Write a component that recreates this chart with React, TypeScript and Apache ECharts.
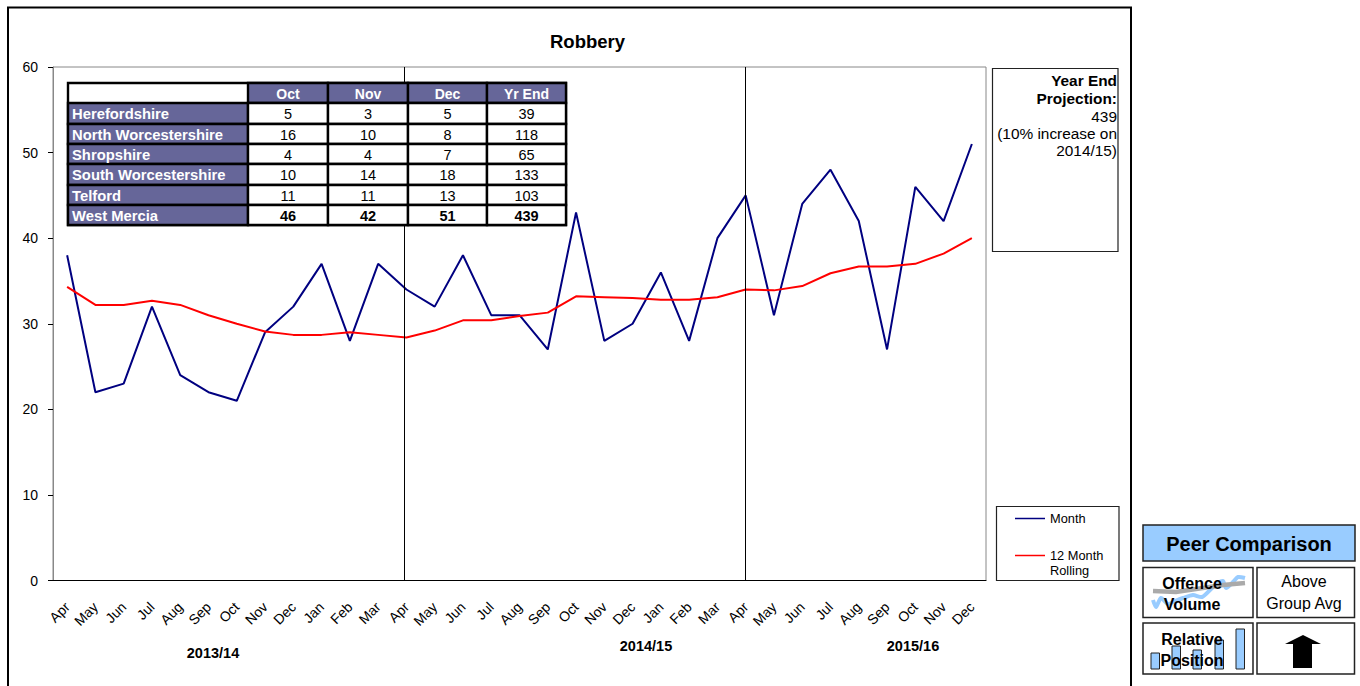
import React, { useEffect, useRef } from "react";
import * as echarts from "echarts";

const months = ["Apr","May","Jun","Jul","Aug","Sep","Oct","Nov","Dec","Jan","Feb","Mar","Apr","May","Jun","Jul","Aug","Sep","Oct","Nov","Dec","Jan","Feb","Mar","Apr","May","Jun","Jul","Aug","Sep","Oct","Nov","Dec"];
const monthValues = [38,22,23,32,24,22,21,29,32,37,28,37,34,32,38,31,31,27,43,28,30,36,28,40,45,31,44,48,42,27,46,42,51];
const rollingValues = [34.3,32.2,32.2,32.7,32.2,31,30,29.1,28.7,28.7,29,28.7,28.4,29.2,30.4,30.4,30.9,31.3,33.2,33.1,33,32.8,32.8,33.1,34,33.9,34.4,35.9,36.7,36.7,37,38.2,40];
const yearBreaks = [12.42, 24.48];
const tableColumns = ["Oct","Nov","Dec","Yr End"];
const tableNames = ["Herefordshire","North Worcestershire","Shropshire","South Worcestershire","Telford","West Mercia"];
const tableValues = [[5,3,5,39],[16,10,8,118],[4,4,7,65],[10,14,18,133],[11,11,13,103],[46,42,51,439]];
const yearLabels = [["2013/14",213,653],["2014/15",646,646],["2015/16",913,646]] as const;
const FONT = "'Liberation Sans', Arial, sans-serif";
const PURPLE = "#666699";
const BLUE = "#99CCFF";

function text(x:number,y:number,t:string,size:number,opts:any={}){
  return {type:"text",x,y,z:opts.z??20,style:{text:t,font:`${opts.bold?"bold ":""}${size}px ${FONT}`,fill:opts.fill??"#000",textAlign:opts.align??"center",textVerticalAlign:"middle",textBaseline:"middle"}};
}
function box(x:number,y:number,w:number,h:number,fill:string,stroke:string,lw:number,z=10){
  return {type:"rect",z,shape:{x,y,width:w,height:h},style:{fill,stroke,lineWidth:lw}};
}
function tableGraphics(){
  const xs=[68,248,328,408,487,566];
  const ys=[83,103,124,144,164,185,205,225];
  const out:any[]=[];
  out.push(box(68,83,498,142,"#fff","#000",2.4));
  for(let c=0;c<4;c++){
    out.push(box(xs[c+1],ys[0],xs[c+2]-xs[c+1],ys[1]-ys[0],PURPLE,"#000",2.4));
    out.push(text((xs[c+1]+xs[c+2])/2,(ys[0]+ys[1])/2+0.5,tableColumns[c],14,{bold:true,fill:"#fff"}));
  }
  tableNames.forEach((n,r)=>{
    const y0=ys[r+1],y1=ys[r+2];
    out.push(box(68,y0,180,y1-y0,PURPLE,"#000",2.4));
    out.push(text(72,(y0+y1)/2+0.5,n,14.8,{bold:true,fill:"#fff",align:"left"}));
    for(let c=0;c<4;c++){
      out.push(box(xs[c+1],y0,xs[c+2]-xs[c+1],y1-y0,"#fff","#000",2.4));
      out.push(text((xs[c+1]+xs[c+2])/2,(y0+y1)/2+0.5,String(tableValues[r][c]),14.5,{bold:r===5}));
    }
  });
  return out;
}
function panelGraphics(){
  const out:any[]=[];
  out.push(box(1143,525,212,36,BLUE,"#222",1.5));
  out.push(text(1249,544,"Peer Comparison",20,{bold:true}));
  out.push(box(1143,567.5,110,50,"#fff","#222",1.5));
  out.push(box(1257,567.5,97.5,50,"#fff","#222",1.5));
  out.push(box(1143,623,110,51,"#fff","#222",1.5));
  out.push(box(1257,623,97.5,51,"#fff","#222",1.5));
  out.push({type:"polyline",z:12,shape:{smooth:0.25,points:[[1153,600],[1156,607],[1161,598],[1168,604],[1175,601],[1183,598],[1193,595],[1202,597],[1211,589],[1218,583],[1223,581],[1226,588],[1234,581],[1238,577],[1245,578]]},style:{stroke:BLUE,lineWidth:4,fill:"none"}});
  out.push({type:"polyline",z:13,shape:{points:[[1153,591],[1176,592],[1223,585],[1245,583]]},style:{stroke:"#aaaaaa",lineWidth:4.5,fill:"none"}});
  [[1151,653,8.5,16],[1172,646,8.5,23],[1193,650,8.5,19],[1215,640,8.5,29],[1236,629,8.5,40]].forEach(b=>{
    out.push({type:"rect",z:12,shape:{x:b[0],y:b[1],width:b[2],height:b[3]},style:{fill:BLUE,stroke:"#222",lineWidth:1}});
  });
  out.push(text(1192,583,"Offence",16,{bold:true}));
  out.push(text(1192,604.5,"Volume",16,{bold:true}));
  out.push(text(1192,639,"Relative",16,{bold:true}));
  out.push(text(1192,660.5,"Position",16,{bold:true}));
  out.push(text(1304,581,"Above",16));
  out.push(text(1304,603,"Group Avg",16));
  out.push({type:"polygon",z:12,shape:{points:[[1303,635],[1321,644],[1312,644],[1312,668],[1293,668],[1293,644],[1285,644]]},style:{fill:"#000"}});
  return out;
}

export default function App(){
  const ref=useRef<HTMLDivElement>(null);
  useEffect(()=>{
    document.body.style.margin="0";
    const chart=echarts.init(ref.current!,undefined,{renderer:"svg"});
    chart.setOption({
      animation:false,
      backgroundColor:"#fff",
      textStyle:{fontFamily:FONT},
      title:{text:"Robbery",left:545,top:27,textStyle:{fontFamily:FONT,fontSize:18.5,fontWeight:"bold",color:"#000"}},
      grid:{left:53,top:67,width:933,height:513.5,show:true,borderColor:"#888",borderWidth:1,backgroundColor:"#fff"},
      legend:{left:1015,top:511,padding:0,orient:"vertical",itemWidth:30,itemHeight:1.5,itemGap:7,icon:"rect",data:["Month","12 Month Rolling"],
        formatter:(n:string)=>n==="12 Month Rolling"?"\u00a0\n12 Month\nRolling":n,
        textStyle:{fontFamily:FONT,fontSize:12.8,color:"#000",lineHeight:15}},
      xAxis:[{type:"category",data:months,boundaryGap:true,
        axisLine:{lineStyle:{color:"#000",width:1}},axisTick:{alignWithLabel:false,interval:0,length:5,lineStyle:{color:"#000"}},
        axisLabel:{interval:0,rotate:45,fontFamily:FONT,fontSize:14,color:"#000",margin:24},splitLine:{show:false}},
        {type:"value",min:0,max:33,show:false,position:"top",splitLine:{show:false}}],
      yAxis:{type:"value",min:0,max:60,interval:10,
        axisLine:{show:true,lineStyle:{color:"#888",width:1}},axisTick:{show:true,length:5,lineStyle:{color:"#000"}},
        axisLabel:{fontFamily:FONT,fontSize:14,color:"#000",margin:15},splitLine:{show:false}},
      series:[
        {name:"Month",type:"line",data:monthValues,symbol:"none",lineStyle:{color:"#000080",width:2},itemStyle:{color:"#000080"},z:3},
        {name:"12 Month Rolling",type:"line",data:rollingValues,symbol:"none",lineStyle:{color:"#ff0000",width:2},itemStyle:{color:"#ff0000"},z:4},
        {name:"Year breaks",type:"line",xAxisIndex:1,data:[],symbol:"none",z:2,
          markLine:{silent:true,symbol:"none",label:{show:false},lineStyle:{color:"#000",width:1,type:"solid"},data:yearBreaks.map(v=>({xAxis:v}))}},
      ],
      graphic:{elements:[
        box(8,7.5,1123,690,"none","#000",2,1),
        ...tableGraphics(),
        box(992.5,68.5,125.5,183,"#fff","#222",1.2),
        text(1117,80,"Year End",15.4,{bold:true,align:"right"}),
        text(1117,98,"Projection:",15.4,{bold:true,align:"right"}),
        text(1117,116,"439",15.4,{align:"right"}),
        text(1117,133,"(10% increase on",15.4,{align:"right"}),
        text(1117,150,"2014/15)",15.4,{align:"right"}),
        box(996.5,506.5,122.5,74,"none","#222",1.2),
        ...yearLabels.map(l=>text(l[1],l[2],l[0],14.5,{bold:true})),
        ...panelGraphics(),
      ]},
    });
    return ()=>chart.dispose();
  },[]);
  return <div ref={ref} style={{width:1360,height:686}}/>;
}
